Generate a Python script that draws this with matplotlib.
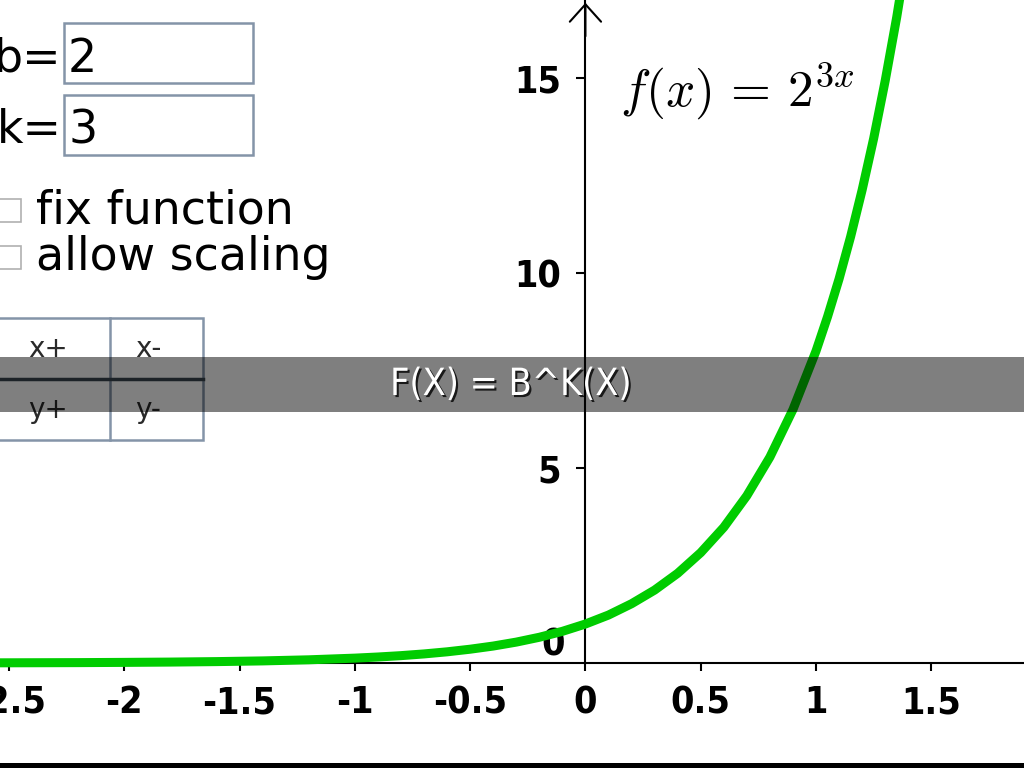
import matplotlib
matplotlib.use("Agg")
import matplotlib.pyplot as plt
from matplotlib.patches import Rectangle
import matplotlib.patheffects as pe

# parametres affiches dans le panneau
b_value = "2"
k_value = "3"

x_vals = [-2.6, -2.4, -2.2, -2.0, -1.8, -1.6, -1.4, -1.2, -1.0, -0.9, -0.8, -0.7, -0.6,
          -0.5, -0.4, -0.3, -0.2, -0.1, 0.0, 0.1, 0.2, 0.3, 0.4, 0.5, 0.6,
          0.7, 0.8, 0.9, 1.0, 1.05, 1.1, 1.15, 1.2, 1.25, 1.3, 1.35, 1.4]
y_vals = [0.004, 0.007, 0.010, 0.016, 0.024, 0.036, 0.054, 0.082, 0.125, 0.154, 0.189, 0.233, 0.287,
          0.354, 0.435, 0.536, 0.660, 0.812, 1.00, 1.23, 1.52, 1.87, 2.30, 2.83, 3.48,
          4.29, 5.28, 6.50, 8.00, 8.88, 9.85, 10.93, 12.13, 13.45, 14.93, 16.56, 18.38]

x_ticks = [-2.5, -2, -1.5, -1, -0.5, 0, 0.5, 1, 1.5]
x_labels = ["-2.5", "-2", "-1.5", "-1", "-0.5", "0", "0.5", "1", "1.5"]
y_ticks = [5, 10, 15]
y_labels = ["5", "10", "15"]

options = ["fix function", "allow scaling"]
buttons = [["x+", "x-"], ["y+", "y-"]]
titre = "F(X) = B^K(X)"

fig = plt.figure(figsize=(10.24, 7.68), dpi=100)
fig.patch.set_facecolor("white")

ax = fig.add_axes([0, 0, 1, 1])
ax.set_xlim(-2.539, 1.902)
ax.set_ylim(-2.692, 17.0)
ax.patch.set_facecolor("white")

for s in ["top", "right"]:
    ax.spines[s].set_visible(False)
ax.spines["left"].set_position(("data", 0))
ax.spines["bottom"].set_position(("data", 0))
ax.spines["left"].set_bounds(0, 17)
ax.spines["left"].set_linewidth(1.5)
ax.spines["bottom"].set_linewidth(1.5)

ax.set_xticks(x_ticks, x_labels)
ax.set_yticks(y_ticks, y_labels)
ax.tick_params(axis="x", direction="out", length=6, width=1.5, pad=10, labelsize=27)
ax.tick_params(axis="y", direction="out", length=6.5, width=1.5, pad=11, labelsize=27)
for t in ax.get_xticklabels() + ax.get_yticklabels():
    t.set_fontweight("bold")
    t.set_fontstretch("condensed")

ax.text(-0.141, 0.46, "0", fontsize=27, fontweight="bold", fontstretch="condensed",
        ha="center", va="center", zorder=1)

ax.plot(x_vals, y_vals, color="#00cc00", lw=6.5, solid_capstyle="round",
        solid_joinstyle="round", zorder=4)

ax.annotate("", xy=(0, 17.0), xytext=(0, 16.0),
            arrowprops=dict(arrowstyle="->,head_length=0.5,head_width=0.45",
                            lw=1.5, color="black", mutation_scale=25))

# panneau superpose en pixels
ov = fig.add_axes([0, 0, 1, 1], zorder=3)
ov.set_xlim(0, 1024)
ov.set_ylim(768, 0)
ov.axis("off")
ov.patch.set_alpha(0)

plt.rcParams["mathtext.fontset"] = "cm"
ov.text(620, 106, r"$f(x)\,=\,2^{3x}$", fontsize=37, ha="left", va="baseline")

# champs b et k
box_col = "#8494a8"
ov.text(62, 72, "b=", fontsize=33, ha="right", va="baseline")
ov.add_patch(Rectangle((64, 23), 189, 60, fill=False, ec=box_col, lw=1.8))
ov.text(68, 72, b_value, fontsize=33, ha="left", va="baseline")
ov.text(62, 143, "k=", fontsize=33, ha="right", va="baseline")
ov.add_patch(Rectangle((64, 95), 189, 60, fill=False, ec=box_col, lw=1.8))
ov.text(68, 143, k_value, fontsize=33, ha="left", va="baseline")

# cases a cocher
for i, opt in enumerate(options):
    yb = 223 + i * 47
    ov.add_patch(Rectangle((-2, yb - 24), 23, 23, fill=True, fc="white", ec="#b0b0b0", lw=1.2))
    ov.text(36, yb, opt, fontsize=33, ha="left", va="baseline")

# boutons
ov.add_patch(Rectangle((-5, 318), 208, 122, fill=False, ec=box_col, lw=1.8))
ov.plot([110, 110], [318, 440], color=box_col, lw=1.8)
ov.plot([-5, 203], [379, 379], color="#3a4550", lw=2.5)
for r, row in enumerate(buttons):
    for c, lab in enumerate(row):
        ov.text(48 + c * 100, 349 + r * 61, lab, fontsize=20, color="#2a2a2a",
                ha="center", va="center")

# bandeau titre
ov.add_patch(Rectangle((0, 357), 1024, 55, fc="black", alpha=0.5, lw=0, zorder=5))
ov.text(511, 385, titre, fontsize=27, color="white", ha="center", va="center",
        family=["Liberation Sans Narrow", "DejaVu Sans"], fontstretch="condensed", zorder=6,
        path_effects=[pe.withSimplePatchShadow(offset=(1.5, -1.5), shadow_rgbFace="black", alpha=0.8)])

# barre noire en bas
ov.add_patch(Rectangle((0, 763), 1024, 6, fc="black", lw=0, zorder=6))

fig.savefig("out.png", dpi=100)
